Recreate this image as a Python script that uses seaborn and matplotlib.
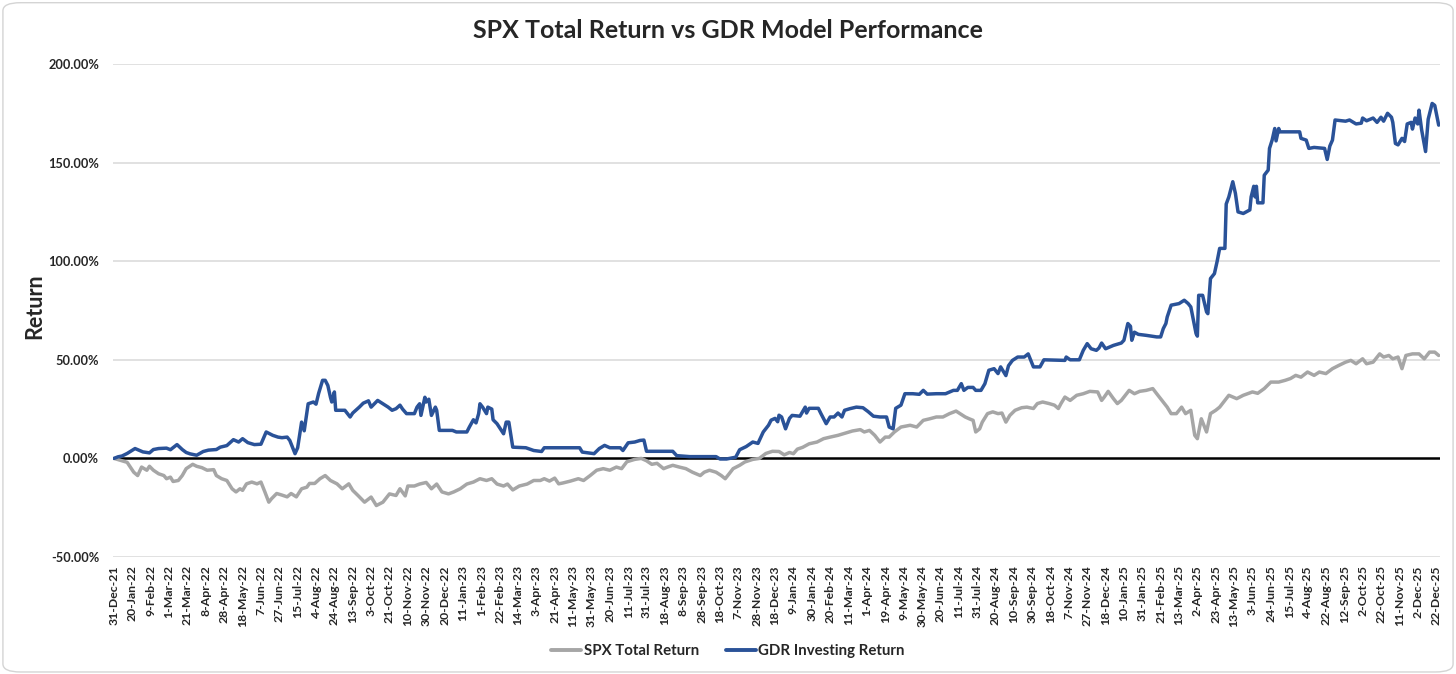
import numpy as np
import pandas as pd
import seaborn as sns
import matplotlib
matplotlib.use("Agg")
import matplotlib.pyplot as plt
from matplotlib.patches import FancyBboxPatch
from matplotlib.ticker import FuncFormatter, FixedLocator

# ---- data (trading-day index, cumulative return in %) ----
gdr_day = [0, 3, 6, 10, 16, 22, 27, 30, 34, 40, 43, 48, 52, 55, 58, 63, 68, 72, 78, 81, 86, 91, 95, 98, 102, 107, 112,
           116, 121, 125, 128, 132, 134, 138, 140, 143, 145, 148, 152, 154, 156, 159, 161, 163, 165, 166, 168, 169,
           176, 180, 182, 187, 190, 194, 196, 201, 205, 209, 212, 215, 218, 220, 223, 229, 231, 233, 234, 237, 238,
           240, 242, 245, 246, 248, 258, 261, 269, 271, 274, 276, 278, 279, 281, 284, 285, 288, 289, 292, 294, 297,
           299, 301, 304, 314, 320, 326, 328, 355, 357, 366, 370, 374, 378, 386, 388, 392, 397, 401, 404, 406, 426,
           429, 439, 459, 462, 467, 474, 477, 482, 487, 491, 492, 495, 499, 501, 504, 506, 507, 509, 512, 515, 517,
           523, 527, 528, 530, 537, 539, 543, 546, 549, 552, 555, 557, 561, 566, 571, 575, 579, 584, 589, 591, 594,
           596, 600, 603, 609, 614, 617, 620, 627, 634, 640, 643, 646, 648, 651, 655, 657, 661, 664, 667, 671, 674,
           676, 680, 682, 685, 689, 694, 697, 699, 701, 706, 709, 725, 726, 729, 736, 739, 742, 745, 749, 751, 753,
           756, 762, 768, 770, 773, 775, 776, 778, 781, 787, 795, 798, 800, 802, 803, 806, 812, 816, 819, 821, 822,
           825, 826, 827, 830, 833, 834, 836, 839, 841, 843, 847, 848, 850, 853, 855, 857, 861, 866, 867, 869, 870,
           871, 872, 876, 877, 880, 881, 883, 885, 886, 888, 889, 904, 905, 909, 911, 915, 923, 925, 927, 929, 931,
           939, 942, 947, 951, 952, 955, 960, 963, 966, 968, 971, 974, 975, 977, 979, 982, 984, 986, 989, 990, 992,
           994, 995, 997, 1000, 1002, 1005, 1007, 1010]
gdr_ret = [0, 0.8, 1.2, 2.5, 5, 3.3, 2.8, 4.5, 5, 5.2, 4.4, 7, 4.5, 3, 2.3, 1.6, 3.5, 4.2, 4.5, 5.7, 6.5, 9.5, 8.3, 10, 8,
           7, 7.2, 13.4, 11.7, 10.8, 10.5, 10.8, 9.1, 2.4, 5.4, 18.4, 14, 27.7, 28.6, 27.5, 33, 39.6, 39.6, 37, 31,
           28.6, 33.7, 24.4, 24.4, 21, 23, 26, 28, 29.2, 26, 29.4, 27.7, 26, 24.4, 25.2, 27, 25, 22.7, 22.7, 26, 27.7,
           21.8, 31, 28.6, 30, 21.8, 26, 24.4, 14.2, 14.2, 13.4, 13.4, 16, 19.6, 18, 22.7, 27.7, 26, 22.7, 26, 25,
           19.6, 17.6, 15.6, 12.5, 18.4, 18.4, 5.7, 5.4, 4, 3.5, 5.4, 5.4, 3.2, 2.4, 5, 6.6, 5.4, 5.4, 4, 7.9, 8.3,
           9.1, 9.3, 3.6, 3.6, 1.4, 0.9, 0.9, -0.3, -0.3, 0.6, 4.4, 6, 8.3, 7.6, 9.1, 13.4, 16.8, 19.4, 20.3, 18.6,
           21.9, 21, 15, 20.3, 21.8, 21.4, 26, 23, 25.4, 25.4, 22.7, 17.6, 21, 21, 23, 21, 24.4, 25.2, 26, 25.7,
           23.7, 21.4, 21, 21, 15.9, 15, 25.4, 27, 32.8, 32.8, 32.5, 34.5, 32.6, 32.8, 32.8, 34.5, 34.5, 37.9, 34.5,
           36, 36, 34.5, 34.5, 37.9, 44.7, 45.5, 43, 46.4, 42, 47, 49.7, 51.4, 51.4, 53, 49.7, 46.4, 46.4, 50, 49.7,
           51.4, 50, 50, 54.8, 58.2, 55.6, 54.8, 56, 58.5, 55.6, 57.3, 58.5, 59.9, 68.4, 67, 59.9, 64, 62.9, 62.4,
           61.6, 61.6, 65.8, 68.4, 71.7, 77.7, 78.5, 80.2, 78.5, 76.8, 73.4, 63.3, 62, 82.7, 82.7, 74.3, 73.4, 91.2,
           93.7, 99.7, 106.5, 106.5, 129, 132.6, 140.3, 134.4, 125, 124.2, 126, 132.6, 138, 132.6, 138, 129.6, 129.6,
           143.6, 146.2, 157.2, 161.4, 167.3, 161, 167.3, 165.6, 165.6, 162.3, 161.4, 157.2, 157.7, 157.2, 151.6,
           158.4, 161.4, 171.6, 171, 171.6, 169.6, 170, 172.6, 171.2, 172.6, 170.4, 173, 171, 175, 173, 170.4, 159.7,
           159, 162.3, 160.7, 169.6, 170.4, 167, 172.6, 169.6, 176.6, 166.6, 155.6, 172, 180, 179, 169]

spx_day = [0, 5, 10, 15, 18, 21, 25, 27, 30, 34, 38, 40, 43, 45, 49, 52, 55, 60, 63, 67, 71, 76, 78, 82, 86, 90, 93,
           96, 98, 101, 105, 109, 112, 115, 118, 120, 124, 128, 132, 135, 139, 143, 147, 149, 153, 157, 161, 165,
           170, 174, 179, 182, 186, 191, 196, 200, 205, 210, 215, 218, 222, 224, 229, 233, 238, 242, 246, 250, 255,
           259, 264, 269, 274, 279, 284, 288, 292, 297, 300, 304, 309, 315, 320, 325, 328, 332, 336, 339, 342, 348,
           354, 358, 363, 368, 373, 378, 383, 387, 391, 397, 402, 406, 410, 414, 419, 422, 426, 431, 436, 441, 447,
           450, 454, 459, 463, 466, 469, 472, 477, 481, 487, 492, 497, 502, 507, 511, 515, 518, 521, 525, 530, 536,
           541, 546, 552, 558, 563, 569, 572, 576, 580, 584, 588, 591, 595, 600, 607, 612, 617, 622, 627, 632, 637,
           642, 645, 649, 652, 655, 657, 660, 662, 666, 670, 674, 677, 680, 683, 687, 692, 696, 701, 704, 708, 713,
           717, 720, 722, 725, 729, 734, 739, 744, 750, 753, 755, 758, 762, 765, 768, 770, 774, 778, 782, 787, 792,
           795, 800, 803, 806, 810, 814, 817, 821, 824, 826, 829, 833, 836, 840, 843, 848, 850, 856, 861, 868, 872,
           877, 882, 888, 893, 897, 901, 905, 910, 915, 919, 924, 929, 934, 939, 943, 947, 952, 955, 960, 965, 968,
           972, 975, 979, 982, 985, 990, 995, 999, 1003, 1007, 1010]
spx_ret = [0, -1, -2, -7, -8.7, -4.4, -6, -4, -6, -7.8, -8.7, -10.3, -9.5, -11.7, -11.2, -8.7, -5.2, -3, -4, -4.7, -6,
           -5.7, -8.7, -10.3, -11.2, -15.4, -17, -15.4, -16.2, -12.9, -12, -12.9, -12, -17, -22.2, -20.5, -17.8,
           -18.6, -19.5, -17.8, -19.5, -15.4, -14.6, -12.7, -12.7, -10.3, -8.7, -11.2, -12.9, -15.4, -12.9, -16.2,
           -18.8, -22.2, -19.6, -23.9, -22.2, -18, -18.8, -15.4, -19, -14, -14, -13, -12.2, -15.4, -13, -17, -18,
           -17, -15.4, -13, -12, -10.3, -11.2, -10.3, -13, -14, -13, -16, -14, -13, -11.2, -11.2, -10.3, -11.5, -10,
           -12.9, -12.5, -11.5, -10.3, -11.2, -8.7, -6, -5.2, -6, -4.4, -5.2, -1.7, -0.5, 0, -1.2, -3, -2.5, -5.2,
           -4.4, -3.5, -4.4, -5.2, -7, -8.7, -7, -6, -7, -8.7, -10.3, -7.8, -5.2, -3.5, -1.8, -0.5, 0, 2.5, 3.6, 3.5,
           1.8, 3, 2.4, 4.7, 5.6, 7.4, 8.3, 10, 10.8, 11.7, 12.9, 13.9, 14.6, 13.4, 14.2, 11.7, 8.3, 10.8, 10.8,
           13.4, 15.9, 16.8, 15.9, 19.3, 20.1, 21, 21, 22.7, 24, 22.7, 21, 20.1, 19.3, 13.4, 15, 18.4, 22.7, 23.6,
           22.7, 23, 18.4, 21.8, 24.4, 25.7, 26, 25.3, 27.8, 28.6, 27.8, 27, 25.3, 27.8, 31.1, 29.4, 32, 32.8, 34,
           33.7, 29.4, 31.1, 34, 30.3, 27.8, 29.4, 31.1, 34.5, 32.8, 34, 34.5, 35.4, 32.8, 28.6, 26, 22.7, 22.7, 26,
           22.7, 24.4, 11.7, 10, 20.1, 13.4, 22.7, 24.4, 26, 30.3, 32, 30.3, 32, 33.7, 33, 35.4, 38.7, 38.7, 39.6,
           40.5, 42.1, 41.2, 43.8, 42.1, 43.8, 43, 45.5, 47.2, 48.8, 49.7, 48, 50.5, 48, 48.8, 53, 51.4, 52.2, 50.5,
           51.4, 45.5, 52.2, 53, 53, 50.5, 53.9, 53.9, 52.2]

tick_labels = ["31-Dec-21", "20-Jan-22", "9-Feb-22", "1-Mar-22", "21-Mar-22", "8-Apr-22", "28-Apr-22", "18-May-22",
               "7-Jun-22", "27-Jun-22", "15-Jul-22", "4-Aug-22", "24-Aug-22", "13-Sep-22", "3-Oct-22", "21-Oct-22",
               "10-Nov-22", "30-Nov-22", "20-Dec-22", "11-Jan-23", "1-Feb-23", "22-Feb-23", "14-Mar-23", "3-Apr-23",
               "21-Apr-23", "11-May-23", "31-May-23", "20-Jun-23", "11-Jul-23", "31-Jul-23", "18-Aug-23", "8-Sep-23",
               "28-Sep-23", "18-Oct-23", "7-Nov-23", "28-Nov-23", "18-Dec-23", "9-Jan-24", "30-Jan-24", "20-Feb-24",
               "11-Mar-24", "1-Apr-24", "19-Apr-24", "9-May-24", "30-May-24", "20-Jun-24", "11-Jul-24", "31-Jul-24",
               "20-Aug-24", "10-Sep-24", "30-Sep-24", "18-Oct-24", "7-Nov-24", "27-Nov-24", "18-Dec-24", "10-Jan-25",
               "31-Jan-25", "21-Feb-25", "13-Mar-25", "2-Apr-25", "23-Apr-25", "13-May-25", "3-Jun-25", "24-Jun-25",
               "15-Jul-25", "4-Aug-25", "22-Aug-25", "12-Sep-25", "2-Oct-25", "22-Oct-25", "11-Nov-25", "2-Dec-25",
               "22-Dec-25"]
tick_step = 14

series_names = ["SPX Total Return", "GDR Investing Return"]
series_colors = ["#a6a6a6", "#2a5298"]

# ---- build table ----
df = pd.concat([
    pd.DataFrame({"day": spx_day, "ret": spx_ret, "series": series_names[0]}),
    pd.DataFrame({"day": gdr_day, "ret": gdr_ret, "series": series_names[1]}),
], ignore_index=True)

sns.set_theme(style="white")
plt.rcParams["font.family"] = ["Lato", "DejaVu Sans"]

fig = plt.figure(figsize=(14.56, 6.74), dpi=100)
ax = fig.add_axes([113 / 1456, 1 - 557 / 674, (1440 - 113) / 1456, (557 - 64) / 674])

for y in [-50, 50, 100, 150, 200]:
    ax.axhline(y, color="#d9d9d9", lw=1.1, zorder=0)
ax.axhline(0, color="black", lw=1.8, zorder=1)

sns.lineplot(data=df, x="day", y="ret", hue="series", hue_order=series_names,
             palette=dict(zip(series_names, series_colors)), estimator=None,
             linewidth=2.5, ax=ax, legend=False, zorder=3)

ax.set_ylim(-50, 200)
ax.set_xlim(-0.8, 1011)
ax.yaxis.set_major_locator(FixedLocator([-50, 0, 50, 100, 150, 200]))
ax.yaxis.set_major_formatter(FuncFormatter(lambda v, p: f"{v:.2f}%"))
ticks = [i * tick_step for i in range(len(tick_labels))]
ax.set_xticks(ticks)
ax.set_xticklabels(tick_labels, rotation=90, fontsize=8.8, fontweight="bold")
ax.tick_params(axis="x", length=0, pad=6)
ax.tick_params(axis="y", length=0, pad=10, labelsize=9.2)
for lab in ax.get_yticklabels():
    lab.set_fontweight("bold")
for s in ax.spines.values():
    s.set_visible(False)
ax.set_xlabel("")
ax.set_ylabel("")

fig.text(35 / 1456, 1 - 306 / 674, "Return", rotation=90, ha="center", va="center",
         fontsize=15.5, fontweight="bold")
fig.text(0.5, 1 - 31 / 674, "SPX Total Return vs GDR Model Performance", ha="center", va="center",
         fontsize=18, fontweight="bold")

handles = [plt.Line2D([], [], color=c, lw=2.8) for c in series_colors]
fig.legend(handles, series_names, loc="center", bbox_to_anchor=(0.5, 1 - 651 / 674), ncol=2, frameon=False,
           prop={"size": 10.8, "weight": "bold"}, handlelength=2.0, handletextpad=0.15, columnspacing=1.8)

border = FancyBboxPatch((0.002, 0.003), 0.996, 0.993, boxstyle="round,pad=0,rounding_size=0.012",
                        transform=fig.transFigure, fill=False, ec="#d4d4d4", lw=1.0)
fig.patches.append(border)

fig.savefig("out.png", dpi=100)
